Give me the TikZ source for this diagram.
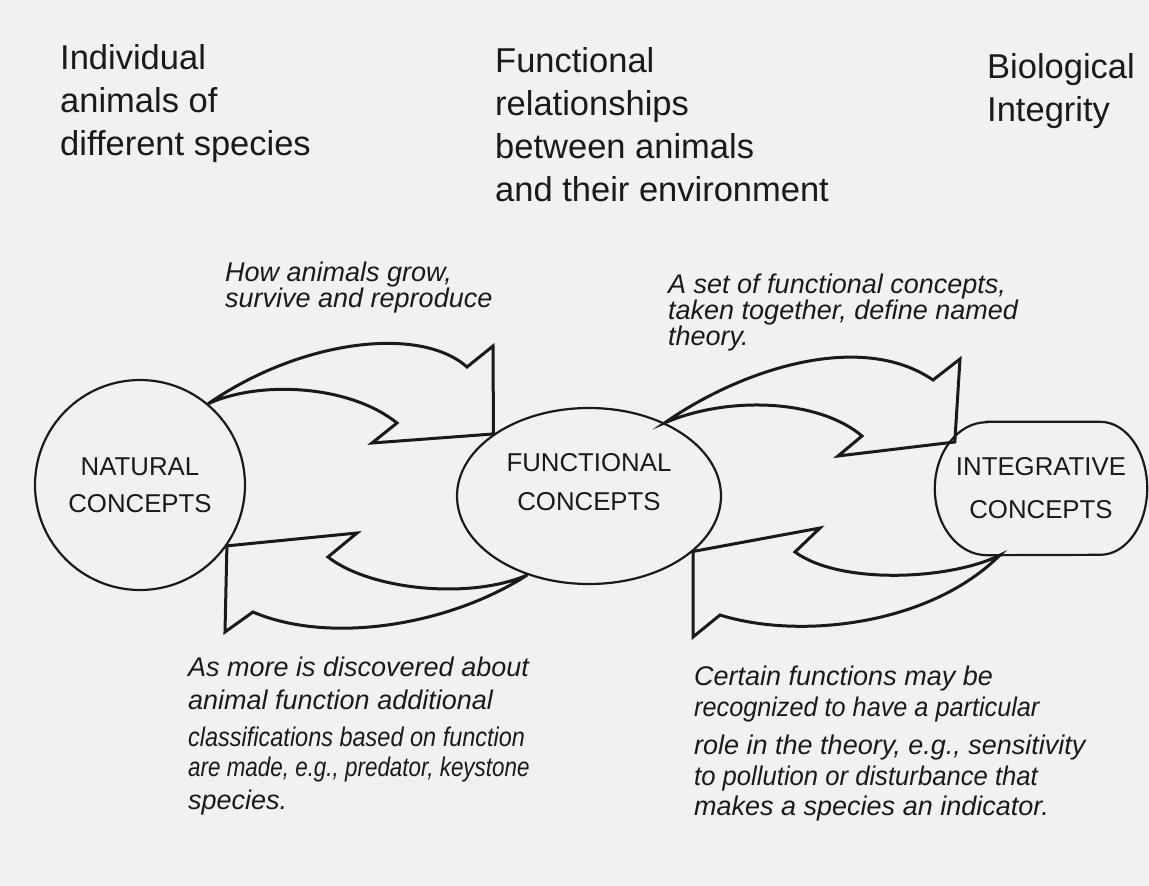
\documentclass[tikz,border=0pt]{standalone}
\usepackage{fontspec}
\setmainfont{Liberation Sans}
\usetikzlibrary{shapes.geometric,calc}
\definecolor{scanPaper}{HTML}{F1F1F1}
\definecolor{scanInk}{HTML}{1A1A1A}
\newcommand{\squeezed}[2]{{\addfontfeature{FakeStretch=#1}#2}}

\begin{document}
\begin{tikzpicture}[x=1pt,y=-1pt,line cap=round,line join=miter]
\path[fill=scanPaper] (0,0) rectangle (1149,886);
\tikzset{heading/.style={anchor=north west,align=left,inner sep=0pt,text=scanInk,font=\fontsize{34.5}{43}\selectfont},note/.style={anchor=north west,align=left,inner sep=0pt,text=scanInk,font=\fontsize{27}{26}\selectfont\itshape},concept/.style={draw=scanInk,line width=2.2pt,align=center,inner sep=0pt,text=scanInk,font=\fontsize{25.8}{37}\selectfont},conceptlabel/.style={align=center,inner sep=0pt,text=scanInk,font=\fontsize{25.8}{39}\selectfont},bigarrow/.style={draw=scanInk,line width=3pt,line join=miter}}
% column headings
\node[heading] (hnat) at (60,44) {Individual\\animals of\\different species};
\node[heading] (hfunc) at (495,47) {Functional\\relationships\\between animals\\and their environment};
\node[heading] (hinteg) at (987,53) {Biological\\Integrity};
% the three concepts
\node[concept,circle,minimum size=210pt] (nat) at (140,485) {NATURAL\\CONCEPTS};
\node[concept,ellipse,minimum width=264pt,minimum height=176pt] (func) at (589,496) {};
\node[conceptlabel] (funclabel) at ($(func.center)+(0,-13.5)$) {FUNCTIONAL\\CONCEPTS};
\node[conceptlabel,minimum width=212pt,minimum height=133pt,font=\fontsize{25.8}{43}\selectfont] (integ) at (1041,488.5) {INTEGRATIVE\\CONCEPTS};
\draw[draw=scanInk,line width=2.2pt] ($(integ.north west)+(52,0)$) -- ($(integ.north east)+(-47,0)$) arc[start angle=-90,end angle=90,x radius=47,y radius=66.5] -- ($(integ.south west)+(52,0)$) arc[start angle=90,end angle=270,x radius=52,y radius=66.5] -- cycle;
% block arrows
\draw[bigarrow] (nat.50) .. controls (300,340) and (420,325) .. (467,367) -- (493,346) -- (func.147) -- (372,443) -- (397,423) .. controls (350,385) and (260,380) .. cycle;
\draw[bigarrow] (func.232) .. controls (470,600) and (370,590) .. (328,557) -- (357,533) -- (nat.-35) -- (225,632) -- (253,612) .. controls (330,645) and (450,625) .. cycle;
\draw[bigarrow] (func.44) .. controls (740,370) and (860,330) .. (933,380) -- (960,359) -- ($(integ.west)+(20,-46.5)$) -- (838,456) -- (862,436) .. controls (820,400) and (730,395) .. cycle;
\draw[bigarrow] ($(integ.south west)+(65,0)$) .. controls (950,580) and (840,585) .. (795,552) -- (820,528) -- (func.-28) -- (693,637) -- (720,615) .. controls (800,640) and (930,625) .. cycle;
% notes
\node[note] (nup1) at (225,262) {How animals grow,\\survive and reproduce};
\node[note] (nup2) at (668,274) {A set of functional concepts,\\taken together, define named\\theory.};
\node[note,font=\fontsize{27}{33}\selectfont\itshape] (ndown1) at (188,657) {As more is discovered about\\animal function additional\\[4pt]\squeezed{0.87}{classifications based on function}\\[-3pt]\squeezed{0.83}{are made, e.g., predator, keystone}\\species.};
\node[note,font=\fontsize{27}{31}\selectfont\itshape] (ndown2) at (694,666) {Certain functions may be\\\squeezed{0.935}{recognized to have a particular}\\[7pt]role in the theory, e.g., sensitivity\\\squeezed{0.95}{to pollution or disturbance that}\\[-1pt]makes a species an indicator.};
\end{tikzpicture}
\end{document}
